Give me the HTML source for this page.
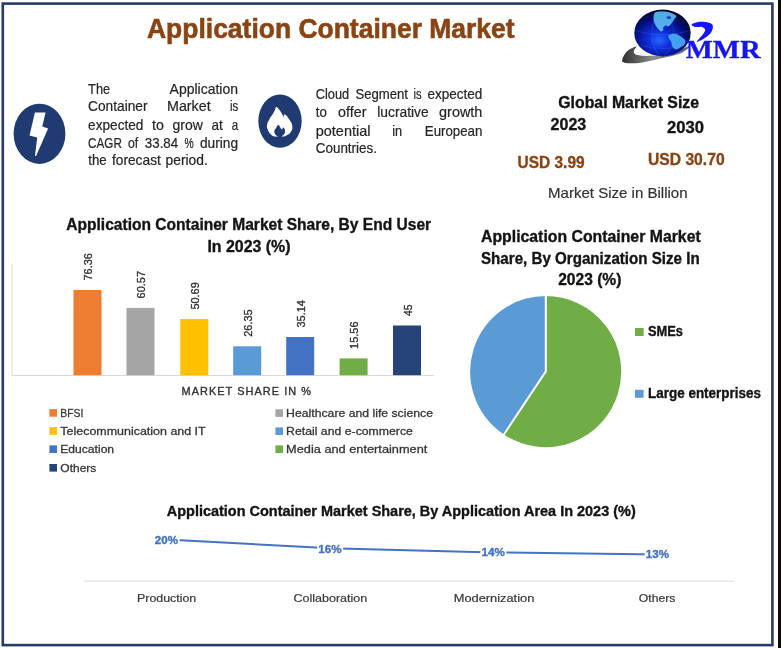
<!DOCTYPE html>
<html lang="en"><head><meta charset="utf-8"><title>Application Container Market</title>
<style>
html,body{margin:0;padding:0;background:#fff;}
body{width:781px;height:648px;overflow:hidden;}
svg{display:block;font-family:"Liberation Sans",sans-serif;}
</style></head><body>
<svg width="781" height="648" viewBox="0 0 781 648">
<rect x="0" y="0" width="781" height="648" fill="#fff"/>
<rect x="778" y="0" width="3" height="648" fill="#0a0a0a"/>
<rect x="2.8" y="3.6" width="769.6" height="641.5" fill="none" stroke="#283966" stroke-width="2.6"/>
<text x="147.0" y="38.1" font-size="26.8" font-weight="700" fill="#8A4414" stroke="#8A4414" stroke-width="0.6" textLength="367.6" lengthAdjust="spacingAndGlyphs">Application Container Market</text>
<ellipse cx="39.5" cy="133.8" rx="25.9" ry="30.1" fill="#203A72"/>
<path d="M34.9 112.6 L45.5 112.6 L42.3 126.5 L48.1 128.6 L36.0 156.3 L35.0 155.4 L37.2 137.6 L29.5 135.5 Z" fill="#fff"/>
<ellipse cx="280" cy="121.1" rx="21.7" ry="26.6" fill="#203A72"/>
<path d="M276.2 106.9 C277.4 106.9 277.9 107.9 279.5 109.9 C281.1 111.8 281.2 112.4 282.3 114.3 C283.3 116.1 282.8 116.7 283.5 116.8 C284.3 116.9 283.3 113.7 284.9 114.5 C286.5 115.3 287.6 116.9 289.6 119.9 C291.5 122.9 291.8 122.6 292.2 125.7 C292.6 128.8 292.5 128.9 291.1 131.5 C289.6 134.1 289.1 134.0 286.7 135.3 C284.3 136.7 285.0 136.3 282.0 136.6 C279.1 136.9 278.6 137.2 275.7 136.6 C272.7 136.0 273.2 136.4 271.0 134.4 C268.9 132.4 268.6 131.8 267.6 129.2 C266.6 126.6 266.8 127.2 267.2 124.6 C267.7 121.9 267.8 122.1 269.3 119.4 C270.8 116.6 271.2 116.8 272.8 114.1 C274.3 111.5 274.2 111.5 275.1 109.5 C276.0 107.6 275.1 106.8 276.2 106.9 Z" fill="#fff"/>
<path d="M278.3 124.9 C279.5 124.8 279.4 126.2 280.3 127.5 C281.2 128.7 281.0 129.5 281.8 129.5 C282.6 129.5 282.6 127.1 283.4 127.5 C284.3 127.8 284.9 129.1 285.0 130.9 C285.2 132.8 284.8 133.0 283.9 134.4 C283.0 135.8 282.4 135.3 281.8 136.2 C281.2 137.2 282.9 137.4 281.8 137.9 C280.7 138.3 278.8 138.3 277.6 137.9 C276.5 137.4 278.0 137.2 277.4 136.2 C276.8 135.3 276.1 135.8 275.3 134.4 C274.5 133.0 274.2 132.6 274.4 130.9 C274.6 129.2 275.0 129.6 276.0 128.0 C277.1 126.4 277.2 125.1 278.3 124.9 Z" fill="#203A72"/>
<text x="88.1" y="93.6" font-size="13.9" fill="#262626" stroke="#262626" stroke-width="0.2" textLength="22.1" lengthAdjust="spacingAndGlyphs">The</text>
<text x="169.6" y="93.6" font-size="13.9" fill="#262626" stroke="#262626" stroke-width="0.2" textLength="68.4" lengthAdjust="spacingAndGlyphs">Application</text>
<text x="88.1" y="111.2" font-size="13.9" fill="#262626" stroke="#262626" stroke-width="0.2" textLength="59.4" lengthAdjust="spacingAndGlyphs">Container</text>
<text x="167.0" y="111.2" font-size="13.9" fill="#262626" stroke="#262626" stroke-width="0.2" textLength="43.6" lengthAdjust="spacingAndGlyphs">Market</text>
<text x="229.9" y="111.2" font-size="13.9" fill="#262626" stroke="#262626" stroke-width="0.2" textLength="8.2" lengthAdjust="spacingAndGlyphs">is</text>
<text x="88.1" y="130.2" font-size="13.9" fill="#262626" stroke="#262626" stroke-width="0.2" textLength="55.3" lengthAdjust="spacingAndGlyphs">expected</text>
<text x="152.0" y="130.2" font-size="13.9" fill="#262626" stroke="#262626" stroke-width="0.2" textLength="11.9" lengthAdjust="spacingAndGlyphs">to</text>
<text x="172.5" y="130.2" font-size="13.9" fill="#262626" stroke="#262626" stroke-width="0.2" textLength="30.3" lengthAdjust="spacingAndGlyphs">grow</text>
<text x="211.4" y="130.2" font-size="13.9" fill="#262626" stroke="#262626" stroke-width="0.2" textLength="11.3" lengthAdjust="spacingAndGlyphs">at</text>
<text x="231.7" y="130.2" font-size="13.9" fill="#262626" stroke="#262626" stroke-width="0.2" textLength="6.4" lengthAdjust="spacingAndGlyphs">a</text>
<text x="88.1" y="148.1" font-size="13.9" fill="#262626" stroke="#262626" stroke-width="0.2" textLength="33.8" lengthAdjust="spacingAndGlyphs">CAGR</text>
<text x="128.0" y="148.1" font-size="13.9" fill="#262626" stroke="#262626" stroke-width="0.2" textLength="10.2" lengthAdjust="spacingAndGlyphs">of</text>
<text x="144.8" y="148.1" font-size="13.9" fill="#262626" stroke="#262626" stroke-width="0.2" textLength="33.4" lengthAdjust="spacingAndGlyphs">33.84</text>
<text x="184.4" y="148.1" font-size="13.9" fill="#262626" stroke="#262626" stroke-width="0.2" textLength="9.2" lengthAdjust="spacingAndGlyphs">%</text>
<text x="200.0" y="148.1" font-size="13.9" fill="#262626" stroke="#262626" stroke-width="0.2" textLength="38.1" lengthAdjust="spacingAndGlyphs">during</text>
<text x="88.3" y="164.7" font-size="13.9" fill="#262626" stroke="#262626" stroke-width="0.2" textLength="18.4" lengthAdjust="spacingAndGlyphs">the</text>
<text x="111.9" y="164.7" font-size="13.9" fill="#262626" stroke="#262626" stroke-width="0.2" textLength="49.0" lengthAdjust="spacingAndGlyphs">forecast</text>
<text x="165.5" y="164.7" font-size="13.9" fill="#262626" stroke="#262626" stroke-width="0.2" textLength="42.4" lengthAdjust="spacingAndGlyphs">period.</text>
<text x="315.8" y="99.0" font-size="13.9" fill="#262626" stroke="#262626" stroke-width="0.2" textLength="33.4" lengthAdjust="spacingAndGlyphs">Cloud</text>
<text x="355.4" y="99.0" font-size="13.9" fill="#262626" stroke="#262626" stroke-width="0.2" textLength="52.5" lengthAdjust="spacingAndGlyphs">Segment</text>
<text x="413.5" y="99.0" font-size="13.9" fill="#262626" stroke="#262626" stroke-width="0.2" textLength="8.1" lengthAdjust="spacingAndGlyphs">is</text>
<text x="427.5" y="99.0" font-size="13.9" fill="#262626" stroke="#262626" stroke-width="0.2" textLength="54.9" lengthAdjust="spacingAndGlyphs">expected</text>
<text x="315.8" y="117.0" font-size="13.9" fill="#262626" stroke="#262626" stroke-width="0.2" textLength="11.1" lengthAdjust="spacingAndGlyphs">to</text>
<text x="338.1" y="117.0" font-size="13.9" fill="#262626" stroke="#262626" stroke-width="0.2" textLength="28.3" lengthAdjust="spacingAndGlyphs">offer</text>
<text x="377.3" y="117.0" font-size="13.9" fill="#262626" stroke="#262626" stroke-width="0.2" textLength="51.4" lengthAdjust="spacingAndGlyphs">lucrative</text>
<text x="439.1" y="117.0" font-size="13.9" fill="#262626" stroke="#262626" stroke-width="0.2" textLength="43.3" lengthAdjust="spacingAndGlyphs">growth</text>
<text x="315.8" y="135.8" font-size="13.9" fill="#262626" stroke="#262626" stroke-width="0.2" textLength="54.6" lengthAdjust="spacingAndGlyphs">potential</text>
<text x="392.3" y="135.8" font-size="13.9" fill="#262626" stroke="#262626" stroke-width="0.2" textLength="9.9" lengthAdjust="spacingAndGlyphs">in</text>
<text x="424.8" y="135.8" font-size="13.9" fill="#262626" stroke="#262626" stroke-width="0.2" textLength="57.6" lengthAdjust="spacingAndGlyphs">European</text>
<text x="315.8" y="152.7" font-size="13.9" fill="#262626" stroke="#262626" stroke-width="0.2" textLength="61.1" lengthAdjust="spacingAndGlyphs">Countries.</text>
<text x="558.3" y="108.3" font-size="16.2" font-weight="700" fill="#141414" stroke="#141414" stroke-width="0.35" textLength="140.7" lengthAdjust="spacingAndGlyphs">Global Market Size</text>
<text x="550.6" y="130.3" font-size="16.2" font-weight="700" fill="#141414" stroke="#141414" stroke-width="0.35" textLength="35.6" lengthAdjust="spacingAndGlyphs">2023</text>
<text x="667.1" y="132.8" font-size="16.2" font-weight="700" fill="#141414" stroke="#141414" stroke-width="0.35" textLength="36.9" lengthAdjust="spacingAndGlyphs">2030</text>
<text x="517.6" y="167.9" font-size="16.2" font-weight="700" fill="#8A4414" stroke="#8A4414" stroke-width="0.35" textLength="67.0" lengthAdjust="spacingAndGlyphs">USD 3.99</text>
<text x="648.0" y="165.4" font-size="16.2" font-weight="700" fill="#8A4414" stroke="#8A4414" stroke-width="0.35" textLength="76.6" lengthAdjust="spacingAndGlyphs">USD 30.70</text>
<text x="548.0" y="198.4" font-size="14.6" fill="#333" stroke="#333" stroke-width="0.2" textLength="139.6" lengthAdjust="spacingAndGlyphs">Market Size in Billion</text>
<defs>
<radialGradient id="gl" cx="0.46" cy="0.62" r="0.62" fx="0.44" fy="0.66">
<stop offset="0" stop-color="#2468ff"/><stop offset="0.3" stop-color="#1030dc"/><stop offset="0.62" stop-color="#061498"/><stop offset="0.88" stop-color="#030a4c"/><stop offset="1" stop-color="#010320"/>
</radialGradient>
<linearGradient id="sw" x1="0" y1="0" x2="1" y2="0"><stop offset="0" stop-color="#2e2e2e"/><stop offset="0.45" stop-color="#8c8c8c"/><stop offset="0.8" stop-color="#70707c"/><stop offset="1" stop-color="#5a5a90"/></linearGradient>
<filter id="bl" x="-5%" y="-5%" width="110%" height="110%"><feGaussianBlur stdDeviation="0.45"/></filter>
</defs>
<g filter="url(#bl)">
<path d="M622.3 59.6 C622.7 57.7 624.7 53.5 627.0 51.3 C629.4 49.1 635.3 46.2 636.4 46.2 C637.5 46.2 633.7 49.8 633.8 51.3 C634.0 52.8 634.3 54.4 637.3 55.1 C640.3 55.9 646.4 56.1 652.0 55.8 C657.7 55.5 664.9 54.9 671.2 53.2 C677.6 51.5 688.7 45.5 690.2 45.5 C691.7 45.6 685.5 51.3 680.2 53.5 C674.9 55.7 665.2 57.3 658.4 58.9 C651.6 60.4 644.9 62.3 639.2 62.9 C633.6 63.6 627.3 63.2 624.5 62.7 C621.7 62.1 621.9 61.5 622.3 59.6 Z" fill="url(#sw)"/>
<ellipse cx="662.5" cy="33" rx="28.2" ry="23.4" fill="url(#gl)"/>
<path d="M654.6 12.9 C656.0 11.3 659.5 11.6 662.3 11.6 C665.0 11.6 668.9 12.1 671.2 12.9 C673.6 13.6 675.9 14.9 676.3 16.1 C676.8 17.3 674.6 18.6 673.8 19.9 C672.9 21.2 672.1 22.7 671.2 23.8 C670.4 24.8 669.7 26.0 668.7 26.3 C667.6 26.6 665.7 25.2 664.8 25.7 C664.0 26.2 664.2 28.6 663.5 29.5 C662.9 30.5 662.0 31.8 661.0 31.4 C659.9 31.1 658.3 29.3 657.1 27.6 C656.0 25.9 654.4 23.7 653.9 21.2 C653.5 18.8 653.2 14.5 654.6 12.9 Z" fill="#62c8fb" opacity="0.85"/>
<path d="M669.3 34.7 C670.6 34.0 673.9 33.3 676.3 34.0 C678.8 34.8 682.5 37.6 684.0 39.1 C685.5 40.6 685.7 41.7 685.3 43.0 C684.9 44.3 683.0 45.7 681.5 46.8 C680.0 47.9 677.8 49.4 676.3 49.4 C674.8 49.4 673.4 48.1 672.5 46.8 C671.6 45.5 671.9 43.2 671.2 41.7 C670.6 40.2 669.0 39.0 668.7 37.9 C668.3 36.7 668.0 35.3 669.3 34.7 Z" fill="#4cb8f8" opacity="0.85"/>
<ellipse cx="668.9" cy="17.6" rx="2.2" ry="1.6" fill="#0a2ab8" opacity="0.8"/>
<ellipse cx="665.2" cy="27.9" rx="2.4" ry="1.5" fill="#0a2ab8" opacity="0.85"/>
<path d="M662.5 9.8 C650 18 648 44 660 56.2 M662.5 9.8 C676 20 678 44 664 56.2 M634.6 30 C650 36 676 36 690.4 30 M638 44 C652 50 674 50 687 44" fill="none" stroke="#5aa8ff" stroke-width="0.5" opacity="0.35"/>
<path d="M691.7 24.4 C692.3 23.6 696.6 22.2 699.4 21.8 C702.2 21.5 706.1 21.8 708.3 22.5 C710.6 23.1 712.4 24.0 712.8 25.7 C713.3 27.4 712.5 30.5 710.9 32.7 C709.3 35.0 705.6 37.6 703.2 39.1 C700.9 40.6 696.8 42.5 696.8 41.7 C696.8 40.8 701.8 36.0 703.2 34.0 C704.6 32.0 705.4 30.7 705.1 29.5 C704.9 28.4 703.5 27.4 701.9 27.0 C700.3 26.5 697.3 27.4 695.5 27.0 C693.8 26.5 691.1 25.3 691.7 24.4 Z" fill="#1515f2"/>
</g>
<text x="685.8" y="57.9" font-family="Liberation Serif, serif" font-weight="700" font-size="24.8" fill="#1616f0" stroke="#1616f0" stroke-width="0.3" textLength="74.8" lengthAdjust="spacingAndGlyphs">MMR</text>
<text x="66.3" y="229.5" font-size="16.1" font-weight="700" fill="#141414" stroke="#141414" stroke-width="0.35" textLength="364.8" lengthAdjust="spacingAndGlyphs">Application Container Market Share, By End User</text>
<text x="207.4" y="251.7" font-size="16.1" font-weight="700" fill="#141414" stroke="#141414" stroke-width="0.35" textLength="83.1" lengthAdjust="spacingAndGlyphs">In 2023 (%)</text>
<path d="M12.1 264 V375.5 H434" fill="none" stroke="#d9d9d9" stroke-width="1"/>
<rect x="73.5" y="290" width="28" height="85.2" fill="#ED7D31"/>
<text transform="translate(92.1 280.5) rotate(-90)" font-size="11.7" fill="#333" stroke="#333" stroke-width="0.35" textLength="27.4" lengthAdjust="spacingAndGlyphs">76.36</text>
<rect x="126.5" y="307.9" width="28" height="67.3" fill="#A5A5A5"/>
<text transform="translate(145.1 298.4) rotate(-90)" font-size="11.7" fill="#333" stroke="#333" stroke-width="0.35" textLength="27.4" lengthAdjust="spacingAndGlyphs">60.57</text>
<rect x="180.3" y="319.1" width="28" height="56.1" fill="#FFC000"/>
<text transform="translate(198.9 309.6) rotate(-90)" font-size="11.7" fill="#333" stroke="#333" stroke-width="0.35" textLength="27.4" lengthAdjust="spacingAndGlyphs">50.69</text>
<rect x="233.2" y="346.3" width="28" height="28.9" fill="#5B9BD5"/>
<text transform="translate(251.8 336.8) rotate(-90)" font-size="11.7" fill="#333" stroke="#333" stroke-width="0.35" textLength="27.4" lengthAdjust="spacingAndGlyphs">26.35</text>
<rect x="286.2" y="337" width="28" height="38.2" fill="#4472C4"/>
<text transform="translate(304.8 327.5) rotate(-90)" font-size="11.7" fill="#333" stroke="#333" stroke-width="0.35" textLength="27.4" lengthAdjust="spacingAndGlyphs">35.14</text>
<rect x="339.6" y="358.4" width="28" height="16.8" fill="#70AD47"/>
<text transform="translate(358.2 348.9) rotate(-90)" font-size="11.7" fill="#333" stroke="#333" stroke-width="0.35" textLength="27.4" lengthAdjust="spacingAndGlyphs">15.56</text>
<rect x="393" y="325.5" width="28" height="49.7" fill="#264478"/>
<text transform="translate(411.6 316.0) rotate(-90)" font-size="11.7" fill="#333" stroke="#333" stroke-width="0.35" textLength="11.5" lengthAdjust="spacingAndGlyphs">45</text>
<text x="181.5" y="395.4" font-size="10.4" letter-spacing="1" fill="#333" stroke="#333" stroke-width="0.35" textLength="130.5" lengthAdjust="spacingAndGlyphs">MARKET SHARE IN %</text>
<rect x="49.4" y="409.09999999999997" width="7.6" height="7.6" fill="#ED7D31"/>
<text x="60.3" y="416.8" font-size="11.6" fill="#363636" stroke="#363636" stroke-width="0.3" textLength="23.0" lengthAdjust="spacingAndGlyphs">BFSI</text>
<rect x="49.4" y="427.2" width="7.6" height="7.6" fill="#FFC000"/>
<text x="60.3" y="434.9" font-size="11.6" fill="#363636" stroke="#363636" stroke-width="0.3" textLength="145.4" lengthAdjust="spacingAndGlyphs">Telecommunication and IT</text>
<rect x="49.4" y="445.4" width="7.6" height="7.6" fill="#4472C4"/>
<text x="60.3" y="453.1" font-size="11.6" fill="#363636" stroke="#363636" stroke-width="0.3" textLength="53.8" lengthAdjust="spacingAndGlyphs">Education</text>
<rect x="49.4" y="464.0" width="7.6" height="7.6" fill="#264478"/>
<text x="60.3" y="471.7" font-size="11.6" fill="#363636" stroke="#363636" stroke-width="0.3" textLength="36.0" lengthAdjust="spacingAndGlyphs">Others</text>
<rect x="275.40000000000003" y="409.3" width="7.6" height="7.6" fill="#A5A5A5"/>
<text x="286.1" y="417.0" font-size="11.6" fill="#363636" stroke="#363636" stroke-width="0.3" textLength="146.9" lengthAdjust="spacingAndGlyphs">Healthcare and life science</text>
<rect x="275.40000000000003" y="427.4" width="7.6" height="7.6" fill="#5B9BD5"/>
<text x="286.1" y="435.1" font-size="11.6" fill="#363636" stroke="#363636" stroke-width="0.3" textLength="126.8" lengthAdjust="spacingAndGlyphs">Retail and e-commerce</text>
<rect x="275.40000000000003" y="445.4" width="7.6" height="7.6" fill="#70AD47"/>
<text x="286.1" y="453.1" font-size="11.6" fill="#363636" stroke="#363636" stroke-width="0.3" textLength="141.2" lengthAdjust="spacingAndGlyphs">Media and entertainment</text>
<text x="481.0" y="241.6" font-size="16.1" font-weight="700" fill="#141414" stroke="#141414" stroke-width="0.35" textLength="219.7" lengthAdjust="spacingAndGlyphs">Application Container Market</text>
<text x="481.0" y="263.9" font-size="16.1" font-weight="700" fill="#141414" stroke="#141414" stroke-width="0.35" textLength="218.7" lengthAdjust="spacingAndGlyphs">Share, By Organization Size In</text>
<text x="558.2" y="284.9" font-size="16.1" font-weight="700" fill="#141414" stroke="#141414" stroke-width="0.35" textLength="63.2" lengthAdjust="spacingAndGlyphs">2023 (%)</text>
<path d="M545.7 371.6 L545.7 295.20000000000005 A76.4 76.4 0 1 1 503.31 435.16 Z" fill="#70AD47" stroke="#fff" stroke-width="1.8" stroke-linejoin="round"/>
<path d="M545.7 371.6 L503.31 435.16 A76.4 76.4 0 0 1 545.7 295.20000000000005 Z" fill="#5B9BD5" stroke="#fff" stroke-width="1.8" stroke-linejoin="round"/>
<rect x="635" y="328" width="8.6" height="8" fill="#70AD47"/>
<rect x="635" y="389.8" width="8.6" height="8" fill="#5B9BD5"/>
<text x="648.0" y="335.6" font-size="14.2" font-weight="700" fill="#141414" stroke="#141414" stroke-width="0.35" textLength="35.0" lengthAdjust="spacingAndGlyphs">SMEs</text>
<text x="648.0" y="397.5" font-size="14.2" font-weight="700" fill="#141414" stroke="#141414" stroke-width="0.35" textLength="113.0" lengthAdjust="spacingAndGlyphs">Large enterprises</text>
<text x="166.8" y="515.8" font-size="14.1" font-weight="700" fill="#141414" stroke="#141414" stroke-width="0.35" textLength="468.9" lengthAdjust="spacingAndGlyphs">Application Container Market Share, By Application Area In 2023 (%)</text>
<polyline points="166.6,539.6 330.3,548.3 493.5,552.4 657.5,554.4" fill="none" stroke="#4472C4" stroke-width="2" stroke-linejoin="round"/>
<rect x="153.60000000000002" y="533.6" width="26.0" height="13" fill="#fff"/>
<text x="154.8" y="543.6" font-size="11.3" font-weight="700" fill="#4472C4" stroke="#4472C4" stroke-width="0.35" textLength="23.2" lengthAdjust="spacingAndGlyphs">20%</text>
<rect x="317.1" y="542.6" width="26.1" height="13" fill="#fff"/>
<text x="318.3" y="552.6" font-size="11.3" font-weight="700" fill="#4472C4" stroke="#4472C4" stroke-width="0.35" textLength="23.3" lengthAdjust="spacingAndGlyphs">16%</text>
<rect x="480.3" y="546.3" width="26.1" height="13" fill="#fff"/>
<text x="481.5" y="556.3" font-size="11.3" font-weight="700" fill="#4472C4" stroke="#4472C4" stroke-width="0.35" textLength="23.3" lengthAdjust="spacingAndGlyphs">14%</text>
<rect x="644.5999999999999" y="548.3" width="26.0" height="13" fill="#fff"/>
<text x="645.8" y="558.3" font-size="11.3" font-weight="700" fill="#4472C4" stroke="#4472C4" stroke-width="0.35" textLength="23.2" lengthAdjust="spacingAndGlyphs">13%</text>
<path d="M84.2 581.2 H734" stroke="#d9d9d9" stroke-width="1"/>
<text x="137.0" y="602.3" font-size="11.5" fill="#363636" stroke="#363636" stroke-width="0.2" textLength="59.2" lengthAdjust="spacingAndGlyphs">Production</text>
<text x="293.4" y="602.3" font-size="11.5" fill="#363636" stroke="#363636" stroke-width="0.2" textLength="73.9" lengthAdjust="spacingAndGlyphs">Collaboration</text>
<text x="453.7" y="602.3" font-size="11.5" fill="#363636" stroke="#363636" stroke-width="0.2" textLength="80.6" lengthAdjust="spacingAndGlyphs">Modernization</text>
<text x="638.8" y="602.3" font-size="11.5" fill="#363636" stroke="#363636" stroke-width="0.2" textLength="36.6" lengthAdjust="spacingAndGlyphs">Others</text>
</svg>
</body></html>
